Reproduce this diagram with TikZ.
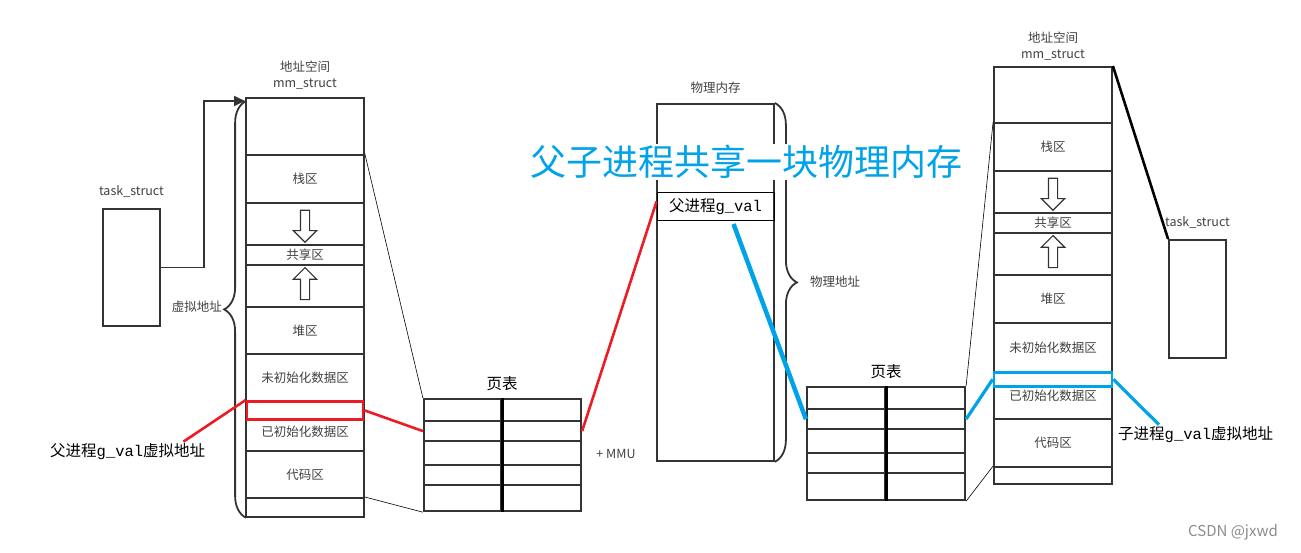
\documentclass[tikz,border=0pt]{standalone}
\usepackage{fontspec}
\setmainfont{Noto Sans CJK SC}
\newfontfamily\monofont{Liberation Mono}
\usetikzlibrary{arrows.meta,positioning,calc,shapes.arrows,decorations.pathreplacing}
\definecolor{linegray}{RGB}{51,51,51}
\definecolor{txtgray}{RGB}{64,64,64}
\definecolor{parred}{RGB}{237,28,36}
\definecolor{childblue}{RGB}{0,162,232}

\begin{document}
\begin{tikzpicture}[
  x=1pt, y=-1pt,
  font=\fontsize{12.5}{16}\selectfont,
  seg/.style={draw=linegray, line width=1.8pt, minimum width=118pt, inner sep=0pt, text=txtgray},
  ptcell/.style={draw=linegray, line width=2.2pt, inner sep=0pt},
  hollow/.style={single arrow, draw=linegray, line width=1.2pt, inner sep=4pt,
    minimum height=32pt, single arrow head extend=7pt},
  vbrace/.style={decorate, decoration={brace, amplitude=22pt}, draw=linegray, line width=1.8pt},
  link/.style={draw=linegray, line width=1.8pt},
  divider/.style={draw=black, line width=3.2pt},
  thin/.style={draw=black, line width=.6pt},
  redline/.style={draw=parred, line width=2.6pt},
  blueline/.style={draw=childblue, line width=3.2pt},
  caption/.style={text=txtgray, inner sep=2pt},
  gval/.style={font=\fontsize{15.5}{18}\selectfont, inner sep=2pt}
]
\useasboundingbox (0,0) rectangle (1301,552);

% parent address space
\foreach \nm/\yt/\yb/\txt in {ltop/97/154/{}, lstack/154/202/栈区, ldown/202/244/{},
    lshare/244/264/共享区, lup/264/306/{}, lheap/306/353/堆区, lbss/353/400/未初始化数据区,
    ldata/400/450/{}, lcode/450/497/代码区, lbot/497/516/{}}
  \node[seg, anchor=north, minimum height={(\yb-\yt)*1pt}] (\nm) at (305,\yt) {\txt};
\node[caption] (ldatalbl) at ([yshift=-6pt]ldata.center) {已初始化数据区};
\node[hollow, rotate=-90] (ldarr) at (ldown) {};
\node[hollow, rotate=90] (luarr) at (lup) {};
\node[draw=parred, line width=2.6pt, minimum width=116pt, minimum height=18pt,
  inner sep=0pt, anchor=north] (lpar) at (305,400) {};
\node[caption, align=center, above=6pt of ltop] (lmm) {地址空间\\mm\_struct};

\node[draw=linegray, line width=1.8pt, minimum width=57pt, minimum height=117pt] (ltask) at (131.5,267.5) {};
\node[caption, above=9pt of ltask] (ltasklbl) {task\_struct};
\coordinate (lentry) at (245,101);
\draw[link, -{Triangle[length=11pt,width=10pt]}] (ltask.east) -- ++(43,0) |- (lentry);

\draw[vbrace] ([xshift=1pt]lbot.south west) -- ([xshift=1pt,yshift=-4pt]ltop.north west);
\node[caption, anchor=east] (vaddr) at (224,307) {虚拟地址};
\node[gval, anchor=west] (lparlbl) at (48,452) {父进程{\monofont g\_val}虚拟地址};

% parent page table
\foreach \i/\yt/\yb in {1/398/420, 2/420/440, 3/440/464, 4/464/484, 5/484/510} {
  \node[ptcell, anchor=north, minimum width=77pt, minimum height={(\yb-\yt)*1pt}] (lptl\i) at (462.5,\yt) {};
  \node[ptcell, anchor=north, minimum width=80pt, minimum height={(\yb-\yt)*1pt}] (lptr\i) at (541,\yt) {};
}
\draw[divider] (lptl1.north east) -- (lptl5.south east);
\node[gval, above=5pt of lptl1.north east] (lpttitle) {页表};
\node[caption] (mmu) at (616,454) {+ MMU};

% physical memory
\node[seg, anchor=north, minimum width=117pt, minimum height=357pt] (pm) at (715.5,103) {};
\node[draw=black, line width=1pt, anchor=north, minimum width=117pt, minimum height=28pt,
  inner sep=0pt, font=\fontsize{15.5}{18}\selectfont] (pcell) at (715.5,192) {父进程{\monofont g\_val}};
\node[caption, above=7pt of pm] (pmlbl) {物理内存};
\draw[vbrace] (pm.north east) -- (pm.south east);
\node[caption, anchor=west] (paddr) at (808,282) {物理地址};

% child page table
\foreach \i/\yt/\yb in {1/386/408, 2/408/428, 3/428/452, 4/452/472, 5/472/499} {
  \node[ptcell, anchor=north, minimum width=78pt, minimum height={(\yb-\yt)*1pt}] (rptl\i) at (846,\yt) {};
  \node[ptcell, anchor=north, minimum width=80pt, minimum height={(\yb-\yt)*1pt}] (rptr\i) at (925,\yt) {};
}
\draw[divider] (rptl1.north east) -- (rptl5.south east);
\node[gval, above=5pt of rptl1.north east] (rpttitle) {页表};

% child address space
\foreach \nm/\yt/\yb/\txt in {rtop/66/122/{}, rstack/122/170/栈区, rdown/170/212/{},
    rshare/212/232/共享区, rup/232/274/{}, rheap/274/322/堆区, rbss/322/371/未初始化数据区,
    rdata/371/418/已初始化数据区, rcode/418/466/代码区, rbot/466/483/{}}
  \node[seg, anchor=north, minimum height={(\yb-\yt)*1pt}] (\nm) at (1053,\yt) {\txt};
\node[hollow, rotate=-90] (rdarr) at (rdown) {};
\node[hollow, rotate=90] (ruarr) at (rup) {};
\node[draw=childblue, line width=2.6pt, minimum width=118pt, minimum height=14pt,
  inner sep=0pt, anchor=north] (rchild) at (1053,371) {};
\node[caption, align=center, above=4pt of rtop] (rmm) {地址空间\\mm\_struct};

\node[draw=linegray, line width=1.8pt, minimum width=57pt, minimum height=118pt] (rtask) at (1197.5,299) {};
\node[caption, above=9pt of rtask] (rtasklbl) {task\_struct};
\draw[draw=black, line width=2.6pt] (rtop.north east) -- (rtask.north west);
\node[gval, anchor=west] (rchildlbl) at (1116,435) {子进程{\monofont g\_val}虚拟地址};

% mapping lines
\draw[thin] (lstack.north east) -- (lptl1.north west);
\draw[thin] (lbot.north east) -- (lptl5.south west);
\draw[thin] (rstack.north west) -- (rptr1.north east);
\draw[thin] (rptr5.south east) -- (rbot.north west);

\draw[redline] (lparlbl.north east) ++(-24,0) -- (lpar.north west);
\draw[redline] (lpar.east) -- (lptl2.west);
\draw[redline] (lptr2.east) -- ([yshift=5pt]pcell.west);

\draw[blueline, line width=4.5pt] ($(pcell.south)+(18,3)$) -- (rptl2.west);
\draw[blueline] (rptr2.east) -- (rchild.west);
\draw[blueline] (rchild.east) -- ($(rchildlbl.north west)+(43,0)$);

\node[fill=white, inner sep=1pt, text=childblue, font=\fontsize{36}{40}\selectfont] (title) at (746,162) {父子进程共享一块物理内存};
\node[text=black!45, font=\fontsize{15}{18}\selectfont] (mark) at (1233,532) {CSDN @jxwd};
\end{tikzpicture}
\end{document}
